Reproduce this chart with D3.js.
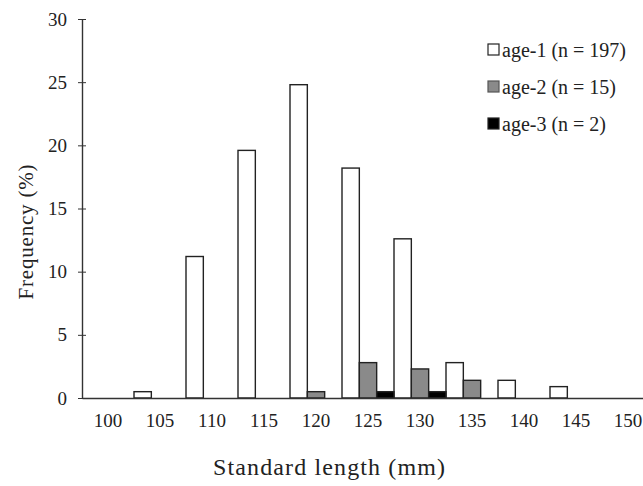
<!DOCTYPE html>
<html>
<head>
<meta charset="utf-8">
<script src="https://cdn.jsdelivr.net/npm/d3@7"></script>
<style>
  body { margin: 0; background: #fff; }
  svg { display: block; font-family: "Liberation Serif", "Times New Roman", serif; }
</style>
</head>
<body>
<div id="chart"></div>
<script>
// standard length classes (mm)
var lengths = ["100", "105", "110", "115", "120", "125", "130", "135", "140", "145", "150"];
// frequency (%) per age group
var age1 = [0, 0.5, 11.2, 19.6, 24.8, 18.2, 12.6, 2.8, 1.4, 0.9, 0];
var age2 = [0, 0, 0, 0, 0.5, 2.8, 2.3, 1.4, 0, 0, 0];
var age3 = [0, 0, 0, 0, 0, 0.5, 0.5, 0, 0, 0, 0];
var seriesNames = ["age-1 (n = 197)", "age-2 (n = 15)", "age-3 (n = 2)"];
var yTicks = [0, 5, 10, 15, 20, 25, 30];

document.addEventListener("DOMContentLoaded", function() {
    var width = 643, height = 486;
    var fills = ["#ffffff", "#8a8a8a", "#000000"];

    var svg = d3.select("#chart").append("svg")
        .attr("width", width)
        .attr("height", height);

    var x = d3.scaleBand().domain(lengths).range([82, 82 + 52 * lengths.length]).padding(0);
    var xSub = d3.scaleBand().domain(seriesNames).range([0, x.bandwidth()]).padding(0);
    var y = d3.scaleLinear().domain([0, 30]).range([398, 19]);

    var series = [age1, age2, age3];

    // bars
    series.forEach(function(vals, si) {
        svg.append("g").selectAll("rect")
            .data(vals.map(function(v, i) { return { cat: lengths[i], v: v }; }).filter(d => d.v > 0))
            .enter().append("rect")
            .attr("x", d => x(d.cat) + xSub(seriesNames[si]))
            .attr("y", d => y(d.v))
            .attr("width", xSub.bandwidth())
            .attr("height", d => y(0) - y(d.v))
            .attr("fill", fills[si])
            .attr("stroke", "#222")
            .attr("stroke-width", 1.4);
    });

    // y axis
    var yAxis = svg.append("g")
        .attr("transform", "translate(82,0)")
        .call(d3.axisLeft(y).tickValues(yTicks).tickSize(4).tickSizeOuter(0).tickPadding(11));
    yAxis.select(".domain").attr("stroke", "#333").attr("stroke-width", 1.4);
    yAxis.selectAll(".tick line").attr("stroke", "#333").attr("x2", 4).attr("x1", -4);
    yAxis.selectAll("text").attr("font-size", 19).attr("fill", "#222")
        .attr("font-family", "Liberation Serif");

    // x axis
    var xAxis = svg.append("g")
        .attr("transform", "translate(0,398)")
        .call(d3.axisBottom(x).tickSize(0).tickPadding(16));
    xAxis.select(".domain").attr("stroke", "#333").attr("stroke-width", 1.4);
    xAxis.selectAll("text").attr("font-size", 19).attr("fill", "#222")
        .attr("font-family", "Liberation Serif");

    // axis titles
    svg.append("text")
        .attr("x", 329).attr("y", 475)
        .attr("text-anchor", "middle")
        .attr("font-size", 24)
        .attr("fill", "#222")
        .attr("textLength", 232).attr("lengthAdjust", "spacing")
        .text("Standard length (mm)");

    svg.append("text")
        .attr("transform", "translate(33,232) rotate(-90)")
        .attr("text-anchor", "middle")
        .attr("font-size", 21)
        .attr("fill", "#222")
        .attr("textLength", 135).attr("lengthAdjust", "spacing")
        .text("Frequency  (%)");

    // legend
    var legend = svg.append("g");
    seriesNames.forEach(function(name, i) {
        var ly = 50 + i * 37;
        legend.append("rect")
            .attr("x", 488).attr("y", ly - 6)
            .attr("width", 11).attr("height", 11)
            .attr("fill", fills[i])
            .attr("stroke", i == 1 ? "#555" : "#222")
            .attr("stroke-width", 1.2);
        legend.append("text")
            .attr("x", 502).attr("y", ly + 7)
            .attr("font-size", 20)
            .attr("fill", "#222")
            .text(name);
    });
});
</script>
</body>
</html>
